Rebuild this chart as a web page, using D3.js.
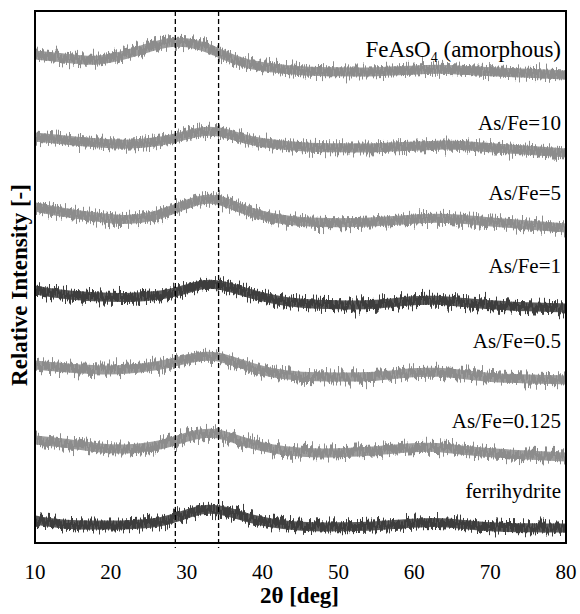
<!DOCTYPE html>
<html lang="en">
<head>
  <meta charset="UTF-8">
  <title>XRD patterns</title>
  <script src="https://d3js.org/d3.v7.min.js"></script>
  <style>
    body {
      margin: 0;
      background: #fff;
      font-family: "Liberation Serif", "Times New Roman", serif;
    }
    .trace {
      fill: none;
      stroke-linejoin: round;
    }
    .tick-label {
      font-size: 21px;
    }
    .axis-label {
      font-size: 23px;
      font-weight: bold;
    }
    .series-label {
      font-size: 21px;
    }
  </style>
</head>
<body>
<svg width="580" height="614"></svg>

<script>
// 2theta positions where the curves were read (deg)
const twoTheta = [10, 14, 18, 22, 26, 28, 30, 32, 34, 36, 38, 41, 45, 50, 55, 60, 63, 66, 70, 75, 80];

// stacked relative intensity (arbitrary units, offset already included)
const feAsO4   = [488, 485, 481, 488, 498, 501, 501, 497, 491, 484, 479, 475, 472, 471, 471, 473, 474, 473, 471, 470, 468];
const asFe10   = [406, 403, 400, 398, 401, 404, 408, 412, 412, 408, 403, 399, 396, 395, 395, 397, 398, 398, 395, 393, 390];
const asFe5    = [336, 330, 326, 322, 327, 333, 339, 344, 344, 338, 332, 325, 321, 320, 321, 324, 325, 324, 321, 318, 315];
const asFe1    = [253, 248, 246, 245, 247, 250, 254, 259, 259, 255, 250, 244, 239, 238, 238, 243, 243, 241, 238, 236, 235];
const asFe05   = [178, 175, 173, 173, 177, 180, 184, 187, 187, 182, 177, 170, 166, 166, 166, 171, 171, 169, 165, 164, 163];
const asFe0125 = [103, 100,  95,  93,  97, 101, 106, 110, 110, 105, 100,  94,  90,  90,  92,  96,  96,  93,  90,  88,  86];
const ferri    = [ 23,  18,  18,  18,  20,  24,  29,  34,  34,  30,  25,  20,  16,  16,  17,  20,  21,  19,  16,  15,  15];

const seriesNames = ["FeAsO4 (amorphous)", "As/Fe=10", "As/Fe=5", "As/Fe=1", "As/Fe=0.5", "As/Fe=0.125", "ferrihydrite"];
const seriesValues = [feAsO4, asFe10, asFe5, asFe1, asFe05, asFe0125, ferri];
// label baseline, in intensity units
const labelLevels = [486, 413, 343, 270, 195, 115, 45];
const darkSeries = ["As/Fe=1", "ferrihydrite"];

const xTicks = [10, 20, 30, 40, 50, 60, 70, 80];
const refLines = [28.5, 34.2];

const svg = d3.select("svg"),
      margin = { top: 11, right: 14, bottom: 71, left: 35 },
      width = +svg.attr("width") - margin.left - margin.right,
      height = +svg.attr("height") - margin.top - margin.bottom,
      g = svg.append("g").attr("transform", `translate(${margin.left},${margin.top})`);

const x = d3.scaleLinear().domain([10, 80]).range([0, width]);
const y = d3.scaleLinear().domain([0, 532]).range([height, 0]);

// rough, noisy look of the measured patterns
const defs = svg.append("defs");
const f = defs.append("filter")
  .attr("id", "noisy")
  .attr("filterUnits", "userSpaceOnUse")
  .attr("x", 0).attr("y", 0).attr("width", 580).attr("height", 614);
f.append("feTurbulence")
  .attr("type", "fractalNoise")
  .attr("baseFrequency", "0.7 0.015")
  .attr("numOctaves", 2)
  .attr("seed", 4)
  .attr("result", "t");
f.append("feColorMatrix")
  .attr("in", "t")
  .attr("type", "matrix")
  .attr("values", "0 0 0 0 0.5  0 1 0 0 0  0 0 0 0 0  0 0 0 0 1")
  .attr("result", "m");
f.append("feDisplacementMap")
  .attr("in", "SourceGraphic")
  .attr("in2", "m")
  .attr("scale", 22)
  .attr("xChannelSelector", "R")
  .attr("yChannelSelector", "G")
  .attr("result", "d");
f.append("feTurbulence")
  .attr("type", "fractalNoise")
  .attr("baseFrequency", "1.3")
  .attr("numOctaves", 1)
  .attr("seed", 9)
  .attr("result", "s");
f.append("feComponentTransfer")
  .attr("in", "s")
  .attr("result", "sm")
  .append("feFuncA")
  .attr("type", "discrete")
  .attr("tableValues", "0 1 1 1 1");
f.append("feComposite")
  .attr("in", "d")
  .attr("in2", "sm")
  .attr("operator", "in");

const line = d3.line()
  .x((d, i) => x(twoTheta[i]))
  .y(d => y(d))
  .curve(d3.curveBasis);

g.append("clipPath").attr("id", "plotclip")
  .append("rect").attr("width", width).attr("height", height);

const traces = g.append("g").attr("clip-path", "url(#plotclip)");

const traceColor = (d, i) => darkSeries.includes(seriesNames[i]) ? "#3c3c3c" : "#8c8c8c";

// solid core of each band
traces.selectAll(".core")
  .data(seriesValues)
  .enter()
  .append("path")
  .attr("class", "trace core")
  .attr("d", d => line(d))
  .attr("stroke", traceColor)
  .attr("stroke-width", 9)
  .attr("opacity", 0.85);

// jagged noise on top
traces.selectAll(".rough")
  .data(seriesValues)
  .enter()
  .append("path")
  .attr("class", "trace rough")
  .attr("d", d => line(d))
  .attr("stroke", traceColor)
  .attr("stroke-width", 9)
  .attr("filter", "url(#noisy)");

// dashed reference lines
g.selectAll(".ref")
  .data(refLines)
  .enter()
  .append("line")
  .attr("class", "ref")
  .attr("x1", d => x(d))
  .attr("x2", d => x(d))
  .attr("y1", 0)
  .attr("y2", height + 5)
  .attr("stroke", "#000")
  .attr("stroke-width", 1.3)
  .attr("stroke-dasharray", "5,3");

// frame
g.append("rect")
  .attr("width", width)
  .attr("height", height)
  .attr("fill", "none")
  .attr("stroke", "#000")
  .attr("stroke-width", 2);

// x tick labels
g.selectAll(".tick-label")
  .data(xTicks)
  .enter()
  .append("text")
  .attr("class", "tick-label")
  .attr("x", d => x(d))
  .attr("y", height + 36)
  .attr("text-anchor", "middle")
  .text(d => d);

g.append("text")
  .attr("class", "axis-label")
  .attr("x", width / 2 - 1)
  .attr("y", height + 60)
  .attr("text-anchor", "middle")
  .text("2θ [deg]");

g.append("text")
  .attr("class", "axis-label")
  .attr("transform", "rotate(-90)")
  .attr("x", -274)
  .attr("y", -8)
  .attr("text-anchor", "middle")
  .text("Relative Intensity [-]");

// series labels
const labels = g.selectAll(".series-label")
  .data(seriesNames)
  .enter()
  .append("text")
  .attr("class", "series-label")
  .attr("x", width - 5)
  .attr("y", (d, i) => y(labelLevels[i]))
  .attr("text-anchor", "end");

labels.each(function(d) {
  const t = d3.select(this);
  if (d.startsWith("FeAsO4")) {
    t.style("font-size", "23px");
    t.append("tspan").text("FeAsO");
    t.append("tspan").attr("font-size", "14px").attr("dy", 5).text("4");
    t.append("tspan").attr("dy", -5).text(" (amorphous)");
  } else {
    t.text(d);
  }
});
</script>
</body>
</html>
